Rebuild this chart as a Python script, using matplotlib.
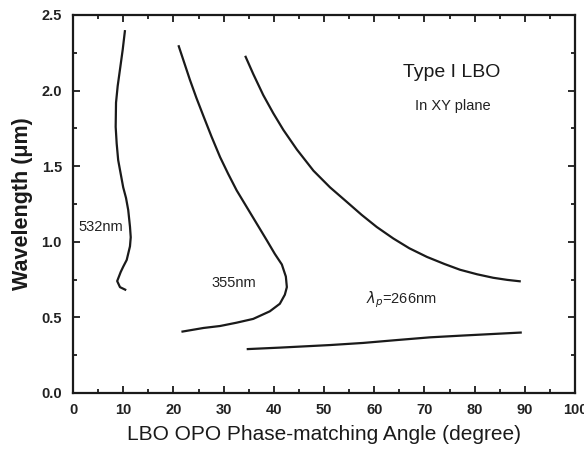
import matplotlib
matplotlib.use("Agg")
import matplotlib.pyplot as plt
from matplotlib.ticker import MultipleLocator

plt.rcParams['font.family'] = ['Liberation Sans', 'DejaVu Sans']

# 532 nm pump curve
x532 = [10.36, 9.9, 9.36, 8.9, 8.57, 8.5, 8.7, 9.0, 9.5, 10.0, 10.56, 11.0, 11.35,
        11.5, 11.35, 10.7, 10.0, 9.5, 8.8, 9.36, 10.6]
y532 = [2.40, 2.27, 2.14, 2.03, 1.92, 1.76, 1.65, 1.54, 1.45, 1.36, 1.29, 1.21, 1.10,
        1.03, 0.97, 0.88, 0.835, 0.80, 0.74, 0.70, 0.68]

# 355 nm pump curve
x355 = [21.0, 22.0, 23.3, 24.6, 26.0, 27.6, 29.3, 30.9, 32.6, 34.6, 36.6, 38.6, 40.2,
        41.6, 42.4, 42.6, 42.2, 41.2, 39.2, 35.9, 32.6, 29.3, 26.0, 21.6]
y355 = [2.30, 2.20, 2.07, 1.95, 1.83, 1.695, 1.56, 1.45, 1.34, 1.23, 1.12, 1.01, 0.92,
        0.85, 0.77, 0.70, 0.65, 0.59, 0.54, 0.49, 0.465, 0.443, 0.43, 0.405]

# 266 nm pump, upper branch
x266a = [34.3, 35.9, 37.9, 39.9, 41.9, 44.6, 47.9, 51.2, 54.5, 57.5, 60.5, 63.8, 67.0,
         70.5, 74.0, 77.1, 80.5, 83.7, 86.5, 89.2]
y266a = [2.23, 2.11, 1.97, 1.85, 1.74, 1.61, 1.47, 1.36, 1.265, 1.178, 1.098, 1.022, 0.957,
         0.90, 0.853, 0.815, 0.785, 0.762, 0.748, 0.738]

# 266 nm pump, lower branch
x266b = [34.6, 41.2, 51.2, 57.8, 64.5, 71.1, 77.7, 89.4]
y266b = [0.29, 0.30, 0.317, 0.331, 0.35, 0.368, 0.38, 0.40]

xticks = [0, 10, 20, 30, 40, 50, 60, 70, 80, 90, 100]
yticks = [0.0, 0.5, 1.0, 1.5, 2.0, 2.5]

fig = plt.figure(figsize=(5.84, 4.54), dpi=100)
ax = fig.add_axes([0.125, 0.1344, 0.8596, 0.8326])

for xs, ys in [(x532, y532), (x355, y355), (x266a, y266a), (x266b, y266b)]:
    ax.plot(xs, ys, color='#1a1a1a', lw=1.6, solid_capstyle='butt', solid_joinstyle='round')

ax.set_xlim(0, 100)
ax.set_ylim(0, 2.5)
ax.set_xticks(xticks)
ax.set_yticks(yticks)
ax.set_xticklabels([str(t) for t in xticks])
ax.set_yticklabels([f"{t:.1f}" for t in yticks])
ax.xaxis.set_minor_locator(MultipleLocator(5))
ax.yaxis.set_minor_locator(MultipleLocator(0.25))
ax.tick_params(which='both', direction='in', top=True, right=True, width=1.3, colors='#1a1a1a')
ax.tick_params(which='major', length=5, labelsize=10.5)
ax.tick_params(axis='x', which='major', pad=7)
ax.tick_params(axis='y', which='major', pad=8)
ax.tick_params(which='minor', length=3)
for lab in ax.get_xticklabels() + ax.get_yticklabels():
    lab.set_fontweight('bold')
    lab.set_color('#222222')
for s in ax.spines.values():
    s.set_linewidth(1.6)
    s.set_color('#1a1a1a')

ax.set_xlabel('LBO OPO Phase-matching Angle (degree)', fontsize=15, color='#1a1a1a', labelpad=6)
ax.set_ylabel('Wavelength (\u03bcm)', fontsize=15.5, color='#1a1a1a', fontweight='bold', labelpad=6)

ax.text(1.0, 1.10, '532nm', fontsize=10.5, ha='left', va='center', color='#222222')
ax.text(32.0, 0.73, '355nm', fontsize=10.5, ha='center', va='center', color='#222222')
ax.text(65.4, 0.615, '$\\lambda_p$=266nm', fontsize=10.5, ha='center', va='center', color='#222222')
ax.text(75.5, 2.12, 'Type I LBO', fontsize=14, ha='center', va='center', color='#1a1a1a')
ax.text(75.7, 1.90, 'In XY plane', fontsize=10.5, ha='center', va='center', color='#222222')

fig.savefig('out.png', dpi=100)
